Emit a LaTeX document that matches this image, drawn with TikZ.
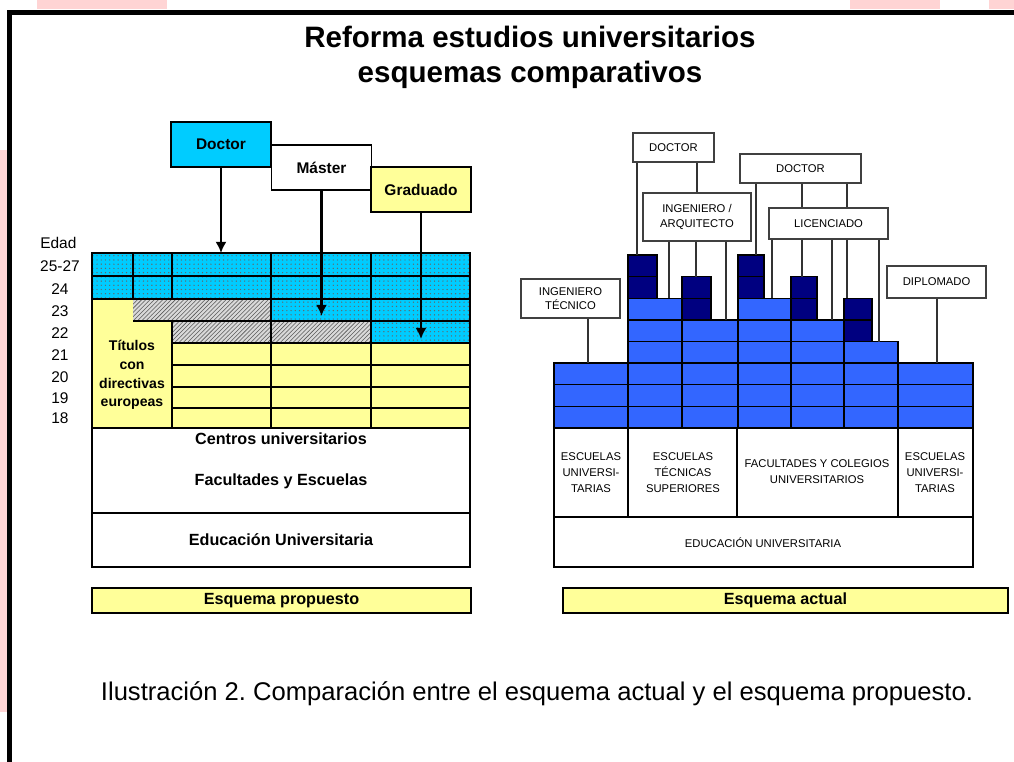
\documentclass[tikz,border=0pt]{standalone}
\usepackage{fontspec}
\setmainfont{Liberation Sans}
\usetikzlibrary{patterns,arrows.meta}
\frenchspacing

\definecolor{celeste}{HTML}{00CCFF}
\definecolor{amarillo}{HTML}{FFFF99}
\definecolor{azul}{HTML}{3366FF}
\definecolor{marino}{HTML}{000080}
\definecolor{rosa}{HTML}{FFD4D4}

\newcommand{\px}{0.025cm}

\tikzset{
  titulo/.style={font=\fontsize{21}{24}\selectfont\bfseries, inner sep=0pt},
  grado/.style={draw=black, line width=1.4pt, minimum width=100*\px, minimum height=45*\px, inner sep=0pt, font=\fontsize{11}{13}\selectfont\bfseries},
  etiq/.style={font=\fontsize{11.5}{13}\selectfont\bfseries, inner sep=0pt},
  edad/.style={font=\fontsize{11}{13}\selectfont, inner sep=0pt},
  flecha/.style={-{Latex[length=8pt,width=8pt]}, line width=1.6pt},
  rejilla/.style={line width=1.1pt},
  cuadro/.style={draw=black!75, line width=0.9pt, fill=white, align=center, inner sep=0pt, font=\fontsize{8}{10}\selectfont},
  enlace/.style={draw=black!80, line width=0.9pt},
  bloque/.style={draw=black, line width=0.9pt, fill=azul},
  bloqueosc/.style={draw=black, line width=0.9pt, fill=marino},
  rotulo/.style={font=\fontsize{8}{11.4}\selectfont, align=center, inner sep=0pt},
  barra/.style={draw=black, line width=1.4pt, fill=amarillo, inner sep=0pt, font=\fontsize{11.5}{13}\selectfont\bfseries},
}

\begin{document}
\begin{tikzpicture}[x=\px, y=-\px]

  \useasboundingbox (0,0) rectangle (1014,762);

  % Watermark and frame
  \fill[rosa] (37,0) rectangle (167,9);
  \fill[rosa] (850,0) rectangle (940,9);
  \fill[rosa] (989,0) rectangle (1014,9);
  \fill[rosa] (0,150) rectangle (7,712);
  \fill[black] (7,10) rectangle (1014,15);
  \fill[black] (7,10) rectangle (12,762);

  % Title
  \node[titulo] (tit1) at (530,37) {Reforma estudios universitarios};
  \node[titulo] (tit2) at (530,75) {esquemas comparativos};

  % ---------------- Esquema propuesto ----------------

  % Ages
  \node[edad, anchor=west] (edad) at (40,243) {Edad};
  \foreach \e/\y [count=\i] in {25-27/266, 24/289, 23/311, 22/333, 21/355, 20/377, 19/398, 18/418}
    \node[edad] (age\i) at (60,\y) {\e};

  % Dotted cells
  \foreach \a/\b/\c/\d in {92/253/470/299, 271/299/470/321, 371/321/470/343} {
    \fill[celeste] (\a,\b) rectangle (\c,\d);
    \fill[pattern=dots, pattern color=black!60] (\a,\b) rectangle (\c,\d);
  }
  % Hatched cells
  \foreach \a/\b/\c/\d in {133/299/271/321, 172/321/371/343} {
    \fill[gray!30] (\a,\b) rectangle (\c,\d);
    \fill[pattern=north east lines, pattern color=black!65] (\a,\b) rectangle (\c,\d);
  }
  % Yellow cells
  \fill[amarillo] (92,299) rectangle (133,321);
  \fill[amarillo] (92,321) rectangle (172,343);
  \fill[amarillo] (92,343) rectangle (470,428);

  % Grid lines
  \draw[rejilla] (92,276) -- (470,276) (92,299) -- (470,299) (133,321) -- (470,321)
    (172,343) -- (470,343) (172,365) -- (470,365) (172,387) -- (470,387) (172,408) -- (470,408);
  \draw[rejilla] (133,253) -- (133,299) (172,253) -- (172,299) (172,321) -- (172,428)
    (271,253) -- (271,428) (371,253) -- (371,428);
  \draw[line width=1.6pt] (92,253) rectangle (470,428);

  \node[font=\fontsize{10}{13.3}\selectfont\bfseries, align=center, inner sep=0pt] (titulos) at (132,375)
    {Títulos\\con\\directivas\\europeas};

  % Degrees
  \node[grado, fill=celeste] (doctor) at (221,144.5) {Doctor};
  \node[grado, fill=white] (master) at (321.5,167.5) {Máster};
  \node[grado, fill=amarillo] (graduado) at (421,189.5) {Graduado};

  \coordinate (fDoc) at (221,253);
  \coordinate (fMas) at (321.5,316);
  \coordinate (fGra) at (421,339);
  \draw[flecha] (doctor) -- (fDoc);
  \draw[flecha] (master) -- (fMas);
  \draw[flecha] (graduado) -- (fGra);

  % Centres
  \draw[line width=1.6pt] (92,428) rectangle (470,567);
  \draw[line width=1.4pt] (92,513) -- (470,513);
  \node[etiq] (centros) at (281,439) {Centros universitarios};
  \node[etiq] (facul) at (281,481) {Facultades y Escuelas};
  \node[etiq] (educ) at (281,540) {Educación Universitaria};

  \node[barra, minimum width=379*\px, minimum height=25*\px] (prop) at (281.5,600.5) {Esquema propuesto};

  % ---------------- Esquema actual ----------------

  % Blue blocks
  \foreach \xa/\xb/\n in {554/628/3, 628/682/6, 682/738/5, 738/791/6, 791/844/5, 844/898/4, 898/973/3}
    \foreach \k in {1,...,\n}
      \draw[bloque] (\xa,{428-21.625*(\k-1)}) rectangle (\xb,{428-21.625*\k});
  \foreach \xa/\xb/\b in {628/657/6, 682/711/5, 738/764/6, 791/817/5, 844/872/4}
    \foreach \k in {1,2}
      \draw[bloqueosc] (\xa,{428-21.625*(\b+\k-1)}) rectangle (\xb,{428-21.625*(\b+\k)});

  % Degree boxes
  \node[cuadro, minimum width=81*\px, minimum height=29*\px] (doc1) at (673.5,147.5) {DOCTOR};
  \node[cuadro, minimum width=108*\px, minimum height=48*\px] (ingarq) at (697,217) {INGENIERO /\\ARQUITECTO};
  \node[cuadro, minimum width=121*\px, minimum height=29*\px] (doc2) at (800.5,168.5) {DOCTOR};
  \node[cuadro, minimum width=119*\px, minimum height=31*\px] (lic) at (828.5,223.5) {LICENCIADO};
  \node[cuadro, minimum width=99*\px, minimum height=39*\px] (ingtec) at (570.5,298.5) {INGENIERO\\TÉCNICO};
  \node[cuadro, minimum width=99*\px, minimum height=32*\px] (diplo) at (936.5,282) {DIPLOMADO};

  % Links to the blocks
  \coordinate (c1) at (637,255);
  \coordinate (c2) at (669,298.25);
  \coordinate (c3) at (696,276.6);
  \coordinate (c4) at (726,319.9);
  \coordinate (c5) at (756,255);
  \coordinate (c6) at (772,298.25);
  \coordinate (c7) at (802,276.6);
  \coordinate (c8) at (832,319.9);
  \coordinate (c9) at (847,298.25);
  \coordinate (c10) at (879,341.5);
  \coordinate (c11) at (588,363.1);
  \coordinate (c12) at (937,363.1);
  \draw[enlace] (doc1.south -| c1) -- (c1);
  \draw[enlace] (ingarq.north) -- (ingarq.north |- doc1.south);
  \foreach \c in {c2,c3,c4}
    \draw[enlace] (ingarq.south -| \c) -- (\c);
  \draw[enlace] (doc2.south -| c5) -- (c5);
  \foreach \c in {c7,c9}
    \draw[enlace] (doc2.south -| \c) -- (lic.north -| \c);
  \foreach \c in {c6,c7,c8,c9,c10}
    \draw[enlace] (lic.south -| \c) -- (\c);
  \draw[enlace] (ingtec.south -| c11) -- (c11);
  \draw[enlace] (diplo.south -| c12) -- (c12);

  % Schools
  \draw[line width=1.1pt] (554,428) rectangle (973,567);
  \draw[line width=1.1pt] (554,517) -- (973,517);
  \draw[line width=1.1pt] (628,428) -- (628,517) (737,428) -- (737,517) (898,428) -- (898,517);
  \node[rotulo] (esc1) at (591,473) {ESCUELAS\\UNIVERSI-\\TARIAS};
  \node[rotulo] (esc2) at (683,473) {ESCUELAS\\TÉCNICAS\\SUPERIORES};
  \node[rotulo] (facol) at (817,472) {FACULTADES Y COLEGIOS\\UNIVERSITARIOS};
  \node[rotulo] (esc3) at (935,473) {ESCUELAS\\UNIVERSI-\\TARIAS};
  \node[rotulo] (eduact) at (763,543) {EDUCACIÓN UNIVERSITARIA};

  \node[barra, minimum width=445*\px, minimum height=25*\px] (actual) at (785.5,600.5) {Esquema actual};

  % Caption
  \node[font=\fontsize{18.2}{21}\selectfont, inner sep=0pt] (pie) at (537,694)
    {Ilustración 2. Comparación entre el esquema actual y el esquema propuesto.};

\end{tikzpicture}
\end{document}
